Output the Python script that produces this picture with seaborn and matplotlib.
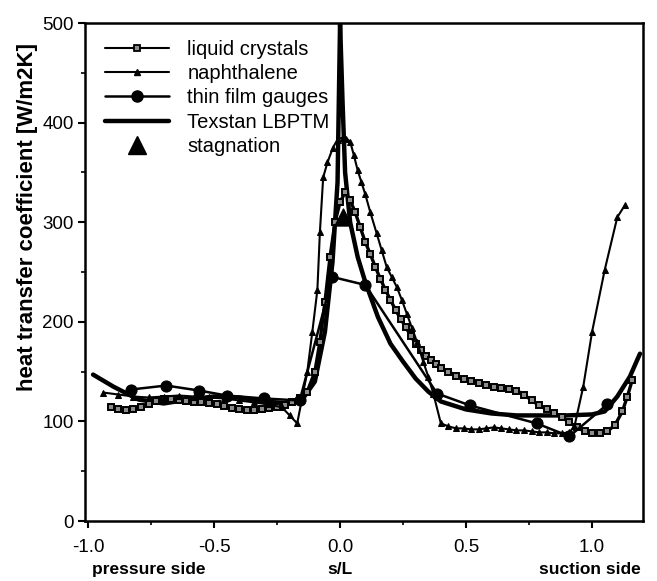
import matplotlib
matplotlib.use("Agg")
import matplotlib.pyplot as plt
import seaborn as sns
import numpy as np
import pandas as pd
from matplotlib.lines import Line2D
from matplotlib.ticker import MultipleLocator

# ---------------- data ----------------
lc_x = [-0.91, -0.88, -0.85, -0.82, -0.79, -0.76, -0.73, -0.70, -0.67, -0.64, -0.61, -0.58,
        -0.55, -0.52, -0.49, -0.46, -0.43, -0.40, -0.37, -0.34, -0.31, -0.28, -0.25, -0.22,
        -0.19, -0.16, -0.13, -0.10, -0.08, -0.06, -0.04, -0.02, 0.00, 0.02, 0.04, 0.06,
        0.08, 0.10, 0.12, 0.14, 0.16, 0.18, 0.20, 0.22, 0.24, 0.26, 0.28, 0.30, 0.32, 0.34,
        0.36, 0.38, 0.40, 0.43, 0.46, 0.49, 0.52, 0.55, 0.58, 0.61, 0.64, 0.67, 0.70, 0.73,
        0.76, 0.79, 0.82, 0.85, 0.88, 0.91, 0.94, 0.97, 1.00, 1.03, 1.06, 1.09, 1.12, 1.14, 1.16]
lc_y = [114, 112, 111, 112, 114, 117, 120, 122, 122, 121, 120, 119,
        119, 118, 117, 115, 113, 112, 111, 111, 112, 113, 114, 116,
        119, 123, 130, 150, 180, 220, 265, 300, 320, 330, 322, 310,
        295, 280, 268, 255, 243, 232, 222, 212, 203, 195, 186, 178, 172, 166,
        162, 158, 154, 150, 146, 143, 141, 139, 137, 135, 134, 133, 131, 127,
        121, 116, 112, 108, 104, 99, 94, 90, 88, 88, 90, 96, 110, 125, 142]

na_x = [-0.94, -0.88, -0.82, -0.76, -0.70, -0.64, -0.58, -0.52, -0.46, -0.40, -0.34, -0.28,
        -0.23, -0.20, -0.17, -0.13, -0.11, -0.09, -0.08, -0.067, -0.05, -0.028, -0.01, 0.01,
        0.025, 0.04, 0.055, 0.07, 0.085, 0.10, 0.12, 0.145, 0.165, 0.185, 0.205, 0.225,
        0.245, 0.265, 0.285, 0.305, 0.33, 0.35, 0.37, 0.40, 0.43, 0.46, 0.49, 0.52, 0.55,
        0.58, 0.61, 0.64, 0.67, 0.70, 0.73, 0.76, 0.79, 0.82, 0.85, 0.88, 0.91, 0.93,
        0.965, 1.00, 1.05, 1.10, 1.13]
na_y = [129, 127, 125, 124, 125, 126, 125, 124, 123, 121, 119, 117,
        114, 106, 98, 150, 190, 232, 290, 345, 360, 375, 383, 385,
        384, 381, 367, 352, 340, 328, 310, 289, 272, 255, 245, 235,
        222, 208, 194, 180, 160, 145, 128, 98, 95, 93, 93, 92, 92,
        93, 94, 93, 92, 91, 91, 90, 89, 89, 88, 88, 89, 95,
        135, 190, 252, 305, 317]

tf_x = [-0.83, -0.69, -0.56, -0.45, -0.30, -0.16, -0.03, 0.10, 0.385, 0.516, 0.78, 0.91, 1.06]
tf_y = [132, 136, 131, 126, 123, 121, 245, 237, 128, 116, 98, 85, 117]

tx_x = [-0.98, -0.90, -0.80, -0.70, -0.60, -0.50, -0.40, -0.30, -0.20, -0.15, -0.10, -0.06,
        -0.03, -0.01, 0.00, 0.01, 0.02, 0.04, 0.07, 0.10, 0.15, 0.20, 0.25, 0.30, 0.35, 0.40,
        0.50, 0.60, 0.70, 0.80, 0.90, 1.00, 1.05, 1.10, 1.15, 1.19]
tx_y = [147, 135, 122, 118, 122, 125, 124, 120, 118, 122, 140, 190,
        260, 340, 500, 420, 350, 300, 265, 240, 205, 178, 160, 143, 130, 120,
        112, 108, 106, 106, 106, 107, 110, 125, 145, 168]

stag_x = [0.01]
stag_y = [305]

labels = ["liquid crystals", "naphthalene", "thin film gauges", "Texstan LBPTM", "stagnation"]
x_ticks = [-1.0, -0.5, 0.0, 0.5, 1.0]
y_ticks = [0, 100, 200, 300, 400, 500]

# ---------------- style ----------------
sns.set_style("ticks")
plt.rcParams['font.family'] = ['Liberation Sans', 'DejaVu Sans']
plt.rcParams['text.color'] = 'black'
plt.rcParams['axes.labelcolor'] = 'black'
plt.rcParams['xtick.color'] = 'black'
plt.rcParams['ytick.color'] = 'black'

fig = plt.figure(figsize=(6.57, 5.81), dpi=100)
ax = fig.add_axes([85/657, 1-521/581, (643-85)/657, (521-23)/581])

k = "black"
sns.lineplot(x=tx_x, y=tx_y, ax=ax, sort=False, estimator=None, color=k, lw=3.2)
sns.lineplot(x=lc_x, y=lc_y, ax=ax, sort=False, estimator=None, color=k, lw=2.4,
             marker="s", markersize=4, markerfacecolor="0.55", markeredgecolor=k, markeredgewidth=1.4)
sns.lineplot(x=na_x, y=na_y, ax=ax, sort=False, estimator=None, color=k, lw=1.5,
             marker="^", markersize=5, markerfacecolor=k, markeredgecolor=k)
sns.lineplot(x=tf_x, y=tf_y, ax=ax, sort=False, estimator=None, color=k, lw=1.8,
             marker="o", markersize=8, markerfacecolor=k, markeredgecolor=k)
sns.scatterplot(x=stag_x, y=stag_y, ax=ax, marker="^", s=150, color=k, edgecolor=k, zorder=5)

ax.set_xlim(-1.012, 1.202)
ax.set_ylim(0, 500)
ax.set_xticks(x_ticks)
ax.set_xticklabels([f"{v:.1f}" for v in x_ticks])
ax.set_yticks(y_ticks)
ax.set_yticklabels([str(v) for v in y_ticks])
ax.xaxis.set_minor_locator(MultipleLocator(0.25))
ax.yaxis.set_minor_locator(MultipleLocator(50))
ax.tick_params(axis="both", which="major", direction="out", length=5, width=1.5,
               labelsize=13.5, colors=k)
ax.tick_params(axis="x", which="major", pad=8)
ax.tick_params(axis="y", which="major", pad=3)
ax.tick_params(axis="both", which="minor", direction="out", length=3, width=1.2, colors=k)
for s in ax.spines.values():
    s.set_linewidth(1.8)
    s.set_color(k)

ax.set_ylabel("heat transfer coefficient [W/m2K]", fontsize=16, fontweight="bold", color=k)
ax.yaxis.set_label_coords(-0.085, 0.61)

ax.text(-0.76, -0.098, "pressure side", transform=ax.get_xaxis_transform(),
        ha="center", va="center", fontsize=12.5, fontweight="bold", color=k)
ax.text(0.0, -0.098, "s/L", transform=ax.get_xaxis_transform(),
        ha="center", va="center", fontsize=12.5, fontweight="bold", color=k)
ax.text(0.99, -0.098, "suction side", transform=ax.get_xaxis_transform(),
        ha="center", va="center", fontsize=12.5, fontweight="bold", color=k)

handles = [
    Line2D([], [], color=k, lw=1.5, marker="s", markersize=4.5, markerfacecolor="0.55",
           markeredgecolor=k, markeredgewidth=1.3),
    Line2D([], [], color=k, lw=1.5, marker="^", markersize=5, markerfacecolor=k),
    Line2D([], [], color=k, lw=1.8, marker="o", markersize=8, markerfacecolor=k),
    Line2D([], [], color=k, lw=3.2),
    Line2D([], [], color=k, lw=0, marker="^", markersize=13, markerfacecolor=k),
]
leg = ax.legend(handles, labels, loc="upper left", bbox_to_anchor=(0.01, 0.995),
                frameon=False, fontsize=14.5, handlelength=3.2, handletextpad=0.9,
                labelspacing=0.27, borderpad=0.2, labelcolor=k)

fig.savefig("out.png", dpi=100)
